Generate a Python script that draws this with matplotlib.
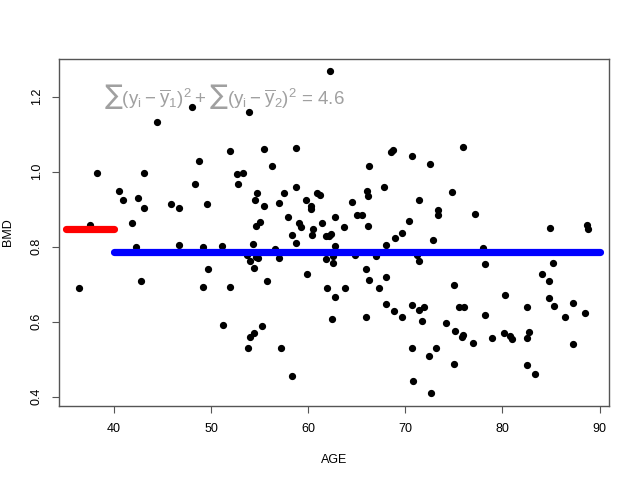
import numpy as np
import matplotlib.pyplot as plt

#datos: edad y densidad mineral osea
age = [47.98, 44.38, 53.92, 51.89, 48.77, 38.20, 43.08, 52.62, 53.23, 48.29,
       52.76, 40.54, 54.68, 40.92, 42.46, 54.47, 45.82, 46.68, 49.53, 43.08,
       41.87, 54.64, 55.06, 37.48, 42.21, 46.68, 49.19, 51.07, 54.26, 62.19,
       55.40, 58.76, 56.22, 68.55, 68.75, 70.64, 72.56, 66.25, 57.46, 58.69,
       55.40, 57.01, 57.91, 59.79, 60.93, 61.16, 60.31, 60.26, 59.00, 59.21,
       58.35, 58.76, 60.44, 60.41, 61.44, 61.78, 62.16, 62.37, 62.75, 63.71,
       64.53, 65.02, 65.53, 66.00, 66.18, 66.15, 67.80, 71.40, 70.37, 68.93,
       69.65, 68.00, 72.80, 73.36, 73.36, 56.60, 62.75, 75.89, 74.80, 77.17,
       84.92, 88.70, 88.84, 77.99, 36.34, 42.73, 49.67, 49.11, 51.97, 53.95,
       54.41, 53.65, 54.61, 54.85, 51.22, 54.44, 53.95, 53.79, 57.01, 61.78,
       62.57, 62.57, 64.81, 67.00, 71.24, 71.44, 59.83, 55.71, 65.90, 66.28,
       68.03, 61.96, 63.78, 67.28, 62.78, 68.03, 68.78, 69.65, 70.71, 71.40,
       71.87, 71.71, 74.21, 62.47, 65.97, 55.23, 57.19, 70.71, 73.11, 72.39,
       58.32, 70.82, 72.64, 78.16, 85.16, 84.03, 84.82, 75.04, 80.22, 84.79,
       75.55, 76.03, 82.48, 85.30, 87.22, 88.53, 86.44, 78.20, 75.11, 75.89,
       75.83, 76.99, 78.95, 80.15, 80.77, 81.01, 82.48, 82.76, 87.22, 75.04,
       82.55, 83.37]
bmd = [1.171, 1.133, 1.160, 1.054, 1.029, 0.997, 0.995, 0.994, 0.996, 0.966,
       0.968, 0.949, 0.943, 0.923, 0.930, 0.923, 0.914, 0.903, 0.914, 0.902,
       0.862, 0.854, 0.865, 0.858, 0.800, 0.805, 0.798, 0.801, 0.808, 1.267,
       1.060, 1.063, 1.015, 1.051, 1.057, 1.042, 1.020, 1.014, 0.943, 0.959,
       0.908, 0.915, 0.878, 0.925, 0.942, 0.937, 0.907, 0.899, 0.862, 0.851,
       0.831, 0.809, 0.846, 0.832, 0.864, 0.827, 0.829, 0.834, 0.880, 0.853,
       0.920, 0.883, 0.883, 0.949, 0.936, 0.856, 0.960, 0.925, 0.869, 0.824,
       0.837, 0.805, 0.819, 0.898, 0.885, 0.795, 0.801, 1.065, 0.945, 0.888,
       0.849, 0.857, 0.847, 0.797, 0.690, 0.709, 0.741, 0.692, 0.692, 0.762,
       0.744, 0.778, 0.773, 0.771, 0.592, 0.570, 0.559, 0.529, 0.769, 0.767,
       0.774, 0.756, 0.778, 0.775, 0.778, 0.761, 0.726, 0.708, 0.741, 0.712,
       0.718, 0.689, 0.691, 0.689, 0.667, 0.646, 0.628, 0.612, 0.645, 0.630,
       0.639, 0.602, 0.597, 0.607, 0.613, 0.588, 0.531, 0.530, 0.530, 0.509,
       0.455, 0.442, 0.409, 0.753, 0.756, 0.728, 0.709, 0.698, 0.672, 0.664,
       0.639, 0.640, 0.640, 0.643, 0.651, 0.622, 0.612, 0.617, 0.576, 0.565,
       0.559, 0.543, 0.556, 0.569, 0.563, 0.553, 0.557, 0.573, 0.540, 0.486,
       0.484, 0.460]

#segmentos de la media por grupo (corte en 40)
seg_x1 = [35, 40]
seg_y1 = 0.848
seg_x2 = [40, 90]
seg_y2 = 0.785
rss = 4.6

x_ticks = [40, 50, 60, 70, 80, 90]
y_ticks = [0.4, 0.6, 0.8, 1.0, 1.2]

plt.rcParams['font.family'] = ['Liberation Sans', 'DejaVu Sans']
plt.rcParams['mathtext.default'] = 'regular'

fig = plt.figure(figsize=(6.4, 4.8), dpi=100)
ax = fig.add_axes([0.0927, 0.154, 0.8593, 0.723])

ax.plot(age, bmd, 'o', color='black', markersize=4.2, zorder=2)
ax.plot(seg_x1, [seg_y1, seg_y1], color='red', lw=5.2, solid_capstyle='round', zorder=3)
ax.plot(seg_x2, [seg_y2, seg_y2], color='blue', lw=5.2, solid_capstyle='round', zorder=3)

ax.text(39.0, 1.20,
        r'$\sum(y_i - \overline{y}_1)^2 + \sum(y_i - \overline{y}_2)^2$ = %.1f' % rss,
        color='#a0a0a0', fontsize=13.5, ha='left', va='center')

#acondicionamiento estilo R
ax.set_xlim(34.36, 91.0)
ax.set_ylim(0.375, 1.30)
ax.set_xticks(x_ticks)
ax.set_xticklabels([str(t) for t in x_ticks])
ax.set_yticks(y_ticks)
ax.set_yticklabels([f'{t:.1f}' for t in y_ticks], rotation=90, va='center')
ax.tick_params(direction='out', length=5, width=0.8, colors='#555555', labelcolor='black', labelsize=9, pad=7)
for s in ax.spines.values():
    s.set_color('#555555')
    s.set_linewidth(1.0)
ax.set_xlabel('AGE', fontsize=9, labelpad=14)
ax.set_ylabel('BMD', fontsize=9, labelpad=12)

fig.savefig('out.png', dpi=100)
